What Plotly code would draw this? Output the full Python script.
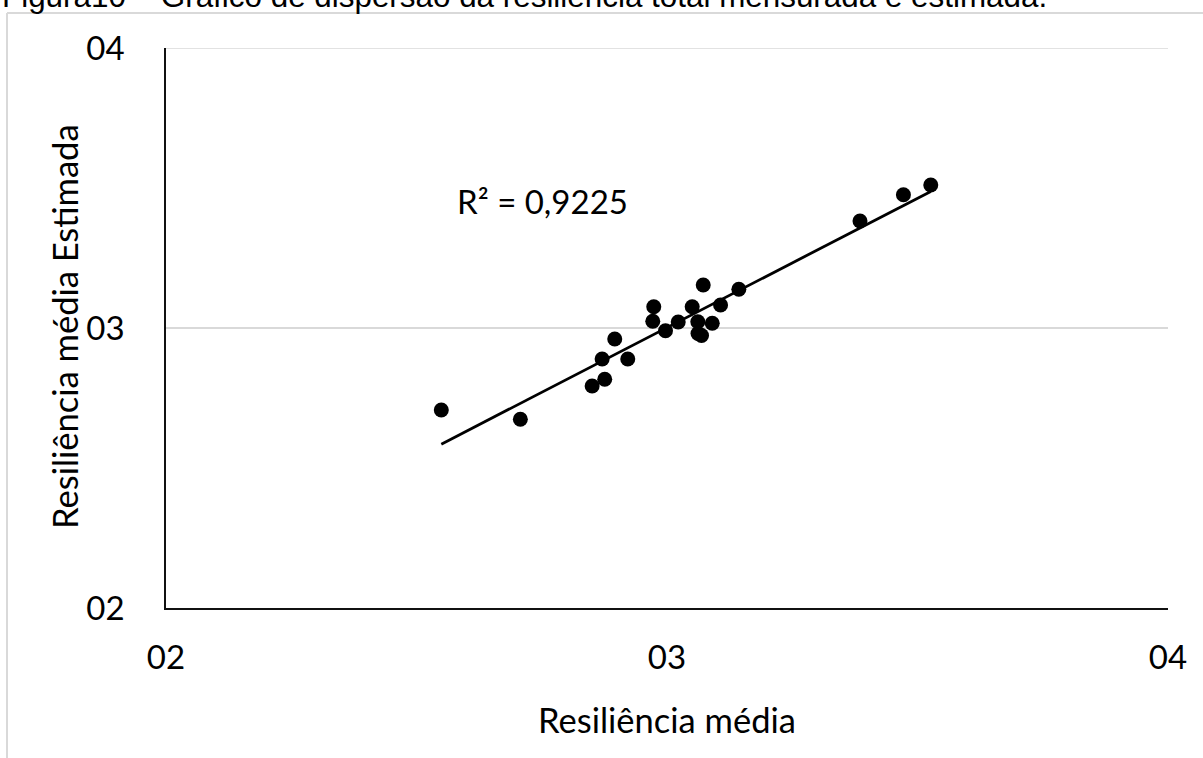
import numpy as np
import plotly.graph_objects as go

# Resiliência média (medida) vs. resiliência média estimada pelo modelo
resiliencia_media = [
    2.5495, 2.7073, 2.8506, 2.8757, 2.8705, 2.8957, 2.9217, 2.9736, 2.9716,
    2.9970, 3.0224, 3.0503, 3.0615, 3.0903, 3.0619, 3.0689, 3.0723, 3.1069,
    3.1434, 3.3852, 3.4719, 3.5265,
]
resiliencia_estimada = [
    2.7071, 2.6739, 2.7929, 2.8168, 2.8893, 2.9607, 2.8893, 3.0761, 3.0239,
    2.9904, 3.0214, 3.0761, 3.0225, 3.0168, 2.9804, 2.9732, 3.1536, 3.0821,
    3.1382, 3.3821, 3.4761, 3.5107,
]

tick_values = [2, 3, 4]
tick_labels = ["02", "03", "04"]

r2_label = "R² = 0,9225"
title_text = "Figura10 – Gráfico de dispersão da resiliência total mensurada e estimada."
x_title = "Resiliência média"
y_title = "Resiliência média Estimada"

# Linear trendline over the range of the observations
x_arr = np.array(resiliencia_media)
y_arr = np.array(resiliencia_estimada)
slope, intercept = np.polyfit(x_arr, y_arr, 1)
trend_x = np.array([x_arr.min(), x_arr.max()])
trend_y = slope * trend_x + intercept

CAL = "Lato, 'Noto Sans', sans-serif"
FS = 33
FS_TITLE = 34.5
GRID = "#d9d9d9"

fig = go.Figure()
fig.add_trace(go.Scatter(
    x=trend_x, y=trend_y, mode="lines",
    line=dict(color="#000000", width=2.8),
    hoverinfo="skip", showlegend=False,
))
fig.add_trace(go.Scatter(
    x=resiliencia_media, y=resiliencia_estimada, mode="markers",
    marker=dict(color="#000000", size=15, line=dict(width=0)),
    showlegend=False,
))

# plot area spans 166..1168 px horizontally and 48..608 px vertically
L, R, T, B = 166, 1168, 48, 608
W, H = 1203, 758


def px_x(p):
    return (p - L) / (R - L)


def px_y(p):
    return (B - p) / (B - T)


fig.update_layout(
    width=W, height=H,
    margin=dict(l=L, r=W - R, t=T, b=H - B, autoexpand=False),
    paper_bgcolor="#ffffff",
    plot_bgcolor="#ffffff",
    font=dict(family=CAL, size=FS, color="#000000"),
    showlegend=False,
)

fig.update_xaxes(
    range=[2, 4], tickvals=tick_values, ticktext=tick_labels,
    showgrid=False, zeroline=False,
    showline=True, linecolor="#111111", linewidth=1.5,
    ticks="outside", ticklen=20, tickcolor="rgba(0,0,0,0)",
    tickfont=dict(family=CAL, size=FS, color="#000000"),
    automargin=False,
)
fig.update_yaxes(
    range=[2, 4], tickvals=tick_values, ticktext=tick_labels,
    showgrid=True, gridcolor=GRID, gridwidth=1.5, zeroline=False,
    showline=True, linecolor="#111111", linewidth=1.5,
    ticks="outside", ticklen=33, tickcolor="rgba(0,0,0,0)",
    tickfont=dict(family=CAL, size=FS, color="#000000"),
    automargin=False,
)

annotations = [
    dict(text=r2_label, x=2.7505, y=3.455, xref="x", yref="y",
         xanchor="center", yanchor="middle", showarrow=False,
         font=dict(family=CAL, size=FS, color="#000000")),
    dict(text=x_title, x=0.5, y=px_y(719), xref="paper", yref="paper",
         xanchor="center", yanchor="middle", showarrow=False,
         font=dict(family=CAL, size=FS_TITLE, color="#000000")),
    dict(text=y_title, x=px_x(64), y=px_y(327), xref="paper", yref="paper",
         xanchor="center", yanchor="middle", textangle=-90, showarrow=False,
         font=dict(family=CAL, size=FS_TITLE, color="#000000")),
    dict(text=title_text, x=px_x(0), y=px_y(16), xref="paper", yref="paper",
         xanchor="left", yanchor="bottom", showarrow=False,
         font=dict(family="'Liberation Sans', Arial, sans-serif", size=31.4,
                   color="#000000")),
]
fig.update_layout(annotations=annotations)

# gridline along the top edge of the plot area (y = 4)
fig.add_shape(type="line", xref="paper", yref="y",
              x0=0, x1=1, y0=tick_values[-1], y1=tick_values[-1],
              line=dict(color=GRID, width=1.5), layer="below")

# light frame around the chart object
fig.add_shape(type="line", xref="paper", yref="paper",
              x0=px_x(7), x1=px_x(7), y0=px_y(13), y1=px_y(H + 5),
              line=dict(color=GRID, width=2))
fig.add_shape(type="line", xref="paper", yref="paper",
              x0=px_x(7), x1=px_x(W + 5), y0=px_y(13), y1=px_y(13),
              line=dict(color=GRID, width=2))

fig.write_html("out.html")
